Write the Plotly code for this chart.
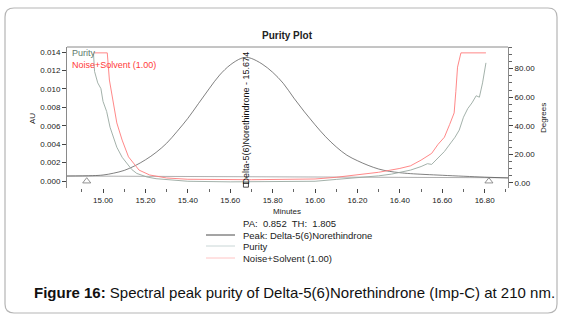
import plotly.graph_objects as go

# ---------------- data ----------------
peak_t = [14.83, 14.95, 15.00, 15.05, 15.10, 15.15, 15.20, 15.25, 15.30, 15.35, 15.40,
          15.45, 15.50, 15.55, 15.60, 15.65, 15.675, 15.70, 15.75, 15.80, 15.85, 15.90,
          15.95, 16.00, 16.05, 16.10, 16.15, 16.20, 16.25, 16.30, 16.35, 16.40, 16.45,
          16.60, 16.80, 16.91]
peak_au = [0.00054, 0.00058, 0.00065, 0.00085, 0.00115, 0.00165, 0.0023, 0.0031, 0.0041,
           0.0054, 0.0068, 0.0084, 0.0100, 0.0115, 0.0126, 0.0133, 0.01342, 0.0133, 0.0127,
           0.0118, 0.0106, 0.0090, 0.0075, 0.0061, 0.0048, 0.0037, 0.0028, 0.0022, 0.0017,
           0.0013, 0.00105, 0.0009, 0.0008, 0.00062, 0.00042, 0.00033]

baseline_t = [14.83, 16.91]
baseline_au = [0.00054, 0.00035]

purity_t = [14.955, 14.96, 14.975, 14.99, 15.00, 15.017, 15.033, 15.05, 15.065, 15.09,
            15.112, 15.135, 15.159, 15.185, 15.207, 15.25, 15.317, 15.40, 15.60, 15.80,
            16.00, 16.10, 16.20, 16.30, 16.36, 16.40, 16.45, 16.50, 16.53, 16.55, 16.57,
            16.59, 16.61, 16.64, 16.66, 16.68, 16.70, 16.72, 16.74, 16.76, 16.775, 16.79,
            16.80, 16.806]
purity_deg = [90.5, 78, 70, 66, 57, 50, 39, 31, 25, 18, 13.5, 9.5, 6.7, 5.2, 4.2, 3.0, 2.1,
              1.2, 0.8, 0.8, 1.2, 2.5, 3.5, 5.0, 6.2, 7.5, 9.0, 11.5, 13.5, 13.0, 16.0,
              19.0, 22.0, 28.0, 32.0, 37.0, 46.0, 52.0, 56.0, 61.0, 60.0, 70.0, 78.0, 84.0]

noise_t = [14.955, 15.02, 15.03, 15.045, 15.065, 15.09, 15.12, 15.17, 15.22, 15.30, 15.40,
           15.70, 16.00, 16.10, 16.20, 16.30, 16.40, 16.45, 16.50, 16.55, 16.58, 16.61,
           16.635, 16.656, 16.664, 16.672, 16.688, 16.806]
noise_deg = [91, 91, 72, 58, 42, 30, 18.3, 9, 5.6, 3.5, 2.6, 2.3, 2.8, 4.0, 5.5, 7.5, 10.2,
             12, 16, 20.7, 27, 32, 41, 49, 64, 81, 91, 91]

peak_start_end_t = [14.923, 16.82]
apex_t = 15.674
x_ticks = [15.00, 15.20, 15.40, 15.60, 15.80, 16.00, 16.20, 16.40, 16.60, 16.80]
au_ticks = [0.000, 0.002, 0.004, 0.006, 0.008, 0.010, 0.012, 0.014]
deg_ticks = [0, 20, 40, 60, 80]

# ---------------- layout helpers (pixel -> paper) ----------------
L, R, T, B = 67, 508, 47, 188
W, H = R - L, B - T


def px(x):
    return (x - L) / W


def py(y):
    return (B - y) / H


FONT = "Liberation Sans, Arial, sans-serif"
PEAK_C = "#4a4a4a"
PUR_C = "#98a8a0"
NOISE_C = "#ff7a7a"
AXIS_C = "#8a8a8a"

fig = go.Figure()

fig.add_trace(go.Scatter(x=baseline_t, y=baseline_au, mode="lines",
                         line=dict(color="#9a9a9a", width=0.8), showlegend=False))
fig.add_trace(go.Scatter(x=peak_t, y=peak_au, mode="lines", line_shape="spline",
                         line=dict(color=PEAK_C, width=0.7), showlegend=False))
fig.add_trace(go.Scatter(x=purity_t, y=purity_deg, yaxis="y2", mode="lines",
                         line=dict(color=PUR_C, width=0.9), showlegend=False))
fig.add_trace(go.Scatter(x=noise_t, y=noise_deg, yaxis="y2", mode="lines",
                         line=dict(color=NOISE_C, width=0.9), showlegend=False))
fig.add_trace(go.Scatter(x=peak_start_end_t, y=[-0.00002, -0.00002], mode="markers",
                         marker=dict(symbol="triangle-up-open", size=7, color="#777",
                                     line=dict(width=0.8)),
                         showlegend=False))
fig.add_trace(go.Scatter(x=[apex_t], y=[-0.0004], mode="markers",
                         marker=dict(symbol="square-open", size=5, color="#222",
                                     line=dict(width=0.8)),
                         showlegend=False))

shapes = []
# outer rounded frame
x0, x1, yt, yb = px(5), px(557), py(8), py(313)
rx, ry = 9 / W, 9 / H
path = (f"M {x0+rx},{yt} L {x1-rx},{yt} Q {x1},{yt} {x1},{yt-ry} "
        f"L {x1},{yb+ry} Q {x1},{yb} {x1-rx},{yb} L {x0+rx},{yb} "
        f"Q {x0},{yb} {x0},{yb+ry} L {x0},{yt-ry} Q {x0},{yt} {x0+rx},{yt} Z")
shapes.append(dict(type="path", xref="paper", yref="paper", path=path,
                   line=dict(color="#b5b5b5", width=1.2)))
# top border of plot box
shapes.append(dict(type="line", xref="paper", yref="paper", x0=0, x1=1, y0=1, y1=1,
                   line=dict(color=AXIS_C, width=1)))
# legend sample lines
for yy, c in [(235, PEAK_C), (246, "#c9d6d6"), (258, "#ffc4c4")]:
    shapes.append(dict(type="line", xref="paper", yref="paper", x0=px(206), x1=px(235),
                       y0=py(yy), y1=py(yy), line=dict(color=c, width=1)))

ann = []


def add_text(x, y, text, size=8, color="#222", xanchor="left", **kw):
    ann.append(dict(xref="paper", yref="paper", x=px(x), y=py(y), text=text,
                    showarrow=False, xanchor=xanchor, yanchor="middle",
                    font=dict(family=FONT, size=size, color=color), **kw))


add_text(287, 35, "<b>Purity Plot</b>", size=10, xanchor="center")
add_text(70, 53, "Purity", size=9, color="#5e7a6c")
add_text(70, 64.5, "Noise+Solvent (1.00)", size=9, color="#ff3a3a")
add_text(287, 211, "Minutes", size=8, xanchor="center")
add_text(241, 223, "PA:&nbsp; 0.852&nbsp; TH:&nbsp; 1.805", size=9.5)
add_text(241, 235, "Peak: Delta-5(6)Norethindrone", size=9.5)
add_text(241, 246.5, "Purity", size=9.5)
add_text(241, 258, "Noise+Solvent (1.00)", size=9.5)
add_text(32, 119, "AU", size=8, textangle=-90, xanchor="center")
add_text(543, 118, "Degrees", size=8, textangle=-90, xanchor="center")
add_text(32, 292, "<b>Figure 16:</b> Spectral peak purity of Delta-5(6)Norethindrone (Imp-C) at 210 nm.",
         size=15, color="#111")
ann.append(dict(xref="x", yref="paper", x=apex_t, y=py(186),
                text="Delta-5(6)Norethindrone - 15.674", textangle=-90, showarrow=False,
                xanchor="center", yanchor="bottom",
                font=dict(family=FONT, size=9, color="#111")))

fig.update_layout(
    width=563, height=318,
    margin=dict(l=L, r=563 - R, t=T, b=318 - B, pad=0),
    paper_bgcolor="white", plot_bgcolor="white",
    font=dict(family=FONT, size=8, color="#222"),
    showlegend=False,
    shapes=shapes,
    annotations=ann,
    xaxis=dict(range=[14.83, 16.91], tickvals=x_ticks,
               ticktext=[f"{v:.2f}" for v in x_ticks], automargin=False,
               showgrid=False, zeroline=False, showline=False,
               ticks="outside", ticklen=4, tickcolor="#444", tickwidth=1,
               minor=dict(dtick=0.1, tick0=15.0, ticks="outside", ticklen=3,
                          tickcolor="#666", showgrid=False),
               tickfont=dict(size=8)),
    yaxis=dict(range=[-0.00076, 0.014543], tickvals=au_ticks,
               ticktext=[f"{v:.3f}" for v in au_ticks], automargin=False,
               showgrid=False, zeroline=False, showline=True, linecolor=AXIS_C,
               ticks="outside", ticklen=4, tickcolor="#444", tickfont=dict(size=8)),
    yaxis2=dict(range=[-3.5, 95.1], overlaying="y", side="right",
                tickvals=deg_ticks, ticktext=[f"{v:.2f}" for v in deg_ticks],
                automargin=False,
                showgrid=False, zeroline=False, showline=True, linecolor=AXIS_C,
                ticks="outside", ticklen=4, tickcolor="#444", tickfont=dict(size=8),
                minor=dict(dtick=5, tick0=0, ticks="outside", ticklen=3,
                           tickcolor="#666", showgrid=False)),
)

fig.write_html("out.html", config={"displayModeBar": False},
               post_script="document.body.style.margin='0';")
